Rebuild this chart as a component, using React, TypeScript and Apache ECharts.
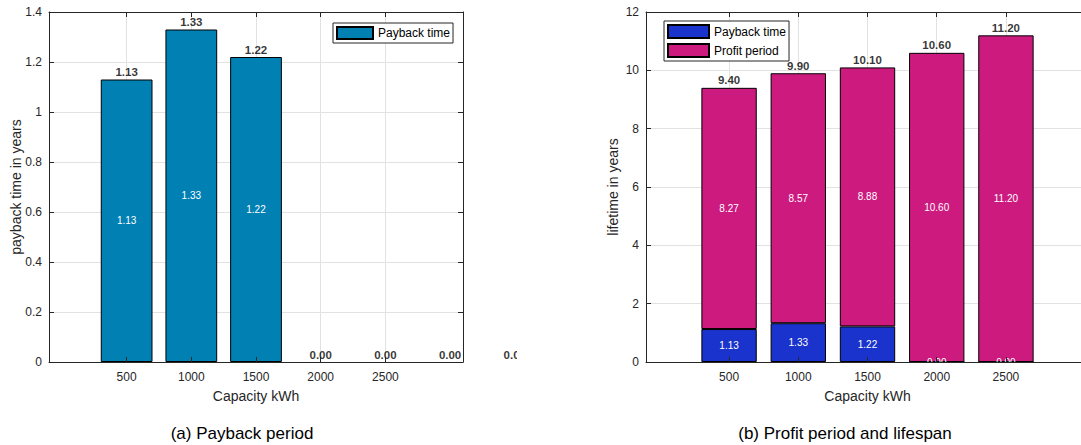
import React, { useEffect, useRef } from 'react';
import * as echarts from 'echarts';

// ---- data ----
const capacityA = [500, 1000, 1500, 2000, 2500, 3000, 3500];
const paybackA = [1.13, 1.33, 1.22, 0, 0, 0, 0];
const capacityB = [500, 1000, 1500, 2000, 2500];
const paybackB = [1.13, 1.33, 1.22, 0, 0];
const profitB = [8.27, 8.57, 8.88, 10.6, 11.2];
const xTickValues = [500, 1000, 1500, 2000, 2500];
const xRange = [-100, 3100];
const yAxisA = { min: 0, max: 1.4, step: 0.2 };
const yAxisB = { min: 0, max: 12, step: 2 };

const FONT = '"Liberation Sans", Arial, Helvetica, sans-serif';
const AXIS = '#262626';
const GRIDC = '#e2e2e2';
const COLOR_A = '#0080b3';
const COLOR_PAY = '#1a33cc';
const COLOR_PROFIT = '#cc1a7f';

const LEFT_W = 517;

function makeAxes(y: { min: number; max: number; step: number }, yName: string) {
  const xb = { type: 'value', min: xRange[0], max: xRange[1] };
  const yb = { type: 'value', min: y.min, max: y.max, interval: y.step };
  const frameX = (pos: string) => ({
    ...xb,
    position: pos,
    z: 10,
    axisLine: { show: true, onZero: false, lineStyle: { color: AXIS, width: 1 } },
    axisTick: { show: true, inside: true, length: 5, customValues: xTickValues, lineStyle: { color: AXIS } },
    axisLabel: { show: false },
    splitLine: { show: false },
  });
  const frameY = (pos: string) => ({
    ...yb,
    position: pos,
    z: 10,
    axisLine: { show: true, onZero: false, lineStyle: { color: AXIS, width: 1 } },
    axisTick: { show: true, inside: true, length: 5, lineStyle: { color: AXIS } },
    axisLabel: { show: false },
    splitLine: { show: false },
  });
  const xAxis = [
    {
      ...xb,
      position: 'bottom',
      name: 'Capacity kWh',
      nameLocation: 'middle',
      nameGap: 27,
      nameMoveOverlap: false,
      nameTextStyle: { color: AXIS, fontSize: 14, fontFamily: FONT },
      axisLine: { show: false, onZero: false },
      axisTick: { show: false, customValues: xTickValues },
      axisLabel: {
        customValues: xTickValues,
        color: AXIS,
        fontSize: 12,
        margin: 9,
        fontFamily: FONT,
        formatter: (v: number) => String(v),
      },
      splitLine: { show: true, lineStyle: { color: GRIDC, width: 1 } },
    },
    frameX('bottom'),
    frameX('top'),
  ];
  const yAxis = [
    {
      ...yb,
      position: 'left',
      name: yName,
      nameLocation: 'middle',
      nameGap: 26,
      nameMoveOverlap: false,
      nameTextStyle: { color: AXIS, fontSize: 14, fontFamily: FONT },
      axisLine: { show: false, onZero: false },
      axisTick: { show: false },
      axisLabel: { color: AXIS, fontSize: 12, margin: 7, fontFamily: FONT },
      splitLine: { show: true, lineStyle: { color: GRIDC, width: 1 } },
    },
    frameY('left'),
    frameY('right'),
  ];
  return { xAxis, yAxis };
}

// data items are [value, capacity]; encode maps capacity to x and value to y
const insideLabel = (values: number[], hideZero: boolean) => ({
  show: true,
  position: 'inside',
  color: '#fff',
  fontSize: 10,
  fontFamily: FONT,
  formatter: (p: any) => {
    const v = values[p.dataIndex];
    return hideZero && !v ? '' : v.toFixed(2);
  },
});

const topLabel = (values: number[]) => ({
  show: true,
  position: 'top',
  distance: 1,
  color: '#000',
  fontSize: 11.5,
  fontWeight: 'bold',
  fontFamily: FONT,
  formatter: (p: any) => values[p.dataIndex].toFixed(2),
});

const legendBase = {
  icon: 'rect',
  itemGap: 4,
  padding: [3, 3, 3, 3],
  borderColor: AXIS,
  borderWidth: 1,
  backgroundColor: '#fff',
  textStyle: { fontSize: 12, color: '#000', fontFamily: FONT },
};

function optionA() {
  const axes = makeAxes(yAxisA, 'payback time in years');
  return {
    animation: false,
    textStyle: { fontFamily: FONT },
    grid: { left: 49, top: 12, width: 414, height: 350, outerBoundsMode: 'none' },
    ...axes,
    legend: {
      ...legendBase,
      data: ['Payback time'],
      left: 333,
      top: 23,
      itemWidth: 36,
      itemHeight: 12,
    },
    series: [
      {
        name: 'Payback time',
        type: 'bar',
        xAxisIndex: 0,
        yAxisIndex: 0,
        clip: true,
        barWidth: '80%',
        encode: { x: 1, y: 0 },
        // a zero-length bar draws nothing
        data: capacityA.map((c, i) => [paybackA[i] === 0 ? '-' : paybackA[i], c]),
        itemStyle: { color: COLOR_A, borderColor: '#000', borderWidth: 1 },
        label: insideLabel(paybackA, true),
      },
      {
        name: 'total',
        type: 'scatter',
        xAxisIndex: 0,
        yAxisIndex: 0,
        clip: false,
        silent: true,
        symbol: 'rect',
        symbolSize: 1,
        itemStyle: { color: 'transparent' },
        encode: { x: 1, y: 0 },
        data: capacityA.map((c, i) => [paybackA[i], c]),
        label: topLabel(paybackA),
      },
    ],
    graphic: [
      {
        type: 'text',
        x: 242,
        y: 433,
        style: { text: '(a) Payback period', align: 'center', verticalAlign: 'middle', fontSize: 17, fill: '#000', fontFamily: FONT },
      },
    ],
  };
}

function optionB() {
  const axes = makeAxes(yAxisB, 'lifetime in years');
  const totals = capacityB.map((_, i) => paybackB[i] + profitB[i]);
  return {
    animation: false,
    textStyle: { fontFamily: FONT },
    grid: { left: 646 - LEFT_W, top: 12, width: 443, height: 350, outerBoundsMode: 'none' },
    ...axes,
    legend: {
      ...legendBase,
      data: ['Payback time', 'Profit period'],
      orient: 'vertical',
      left: 664 - LEFT_W,
      top: 21,
      itemWidth: 41,
      itemHeight: 13,
    },
    series: [
      {
        name: 'Payback time',
        type: 'bar',
        stack: 'life',
        xAxisIndex: 0,
        yAxisIndex: 0,
        barWidth: '80%',
        encode: { x: 1, y: 0 },
        data: capacityB.map((c, i) => [paybackB[i], c]),
        itemStyle: { color: COLOR_PAY, borderColor: '#000', borderWidth: 1 },
        label: insideLabel(paybackB, false),
      },
      {
        name: 'Profit period',
        type: 'bar',
        stack: 'life',
        xAxisIndex: 0,
        yAxisIndex: 0,
        barWidth: '80%',
        encode: { x: 1, y: 0 },
        data: capacityB.map((c, i) => [profitB[i], c]),
        itemStyle: { color: COLOR_PROFIT, borderColor: '#000', borderWidth: 1 },
        label: insideLabel(profitB, false),
      },
      {
        name: 'total',
        type: 'scatter',
        xAxisIndex: 0,
        yAxisIndex: 0,
        clip: false,
        silent: true,
        symbol: 'rect',
        symbolSize: 1,
        itemStyle: { color: 'transparent' },
        encode: { x: 1, y: 0 },
        data: capacityB.map((c, i) => [totals[i], c]),
        label: topLabel(totals),
      },
    ],
    graphic: [
      {
        type: 'text',
        x: 845 - LEFT_W,
        y: 433,
        style: { text: '(b) Profit period and lifespan', align: 'center', verticalAlign: 'middle', fontSize: 17, fill: '#000', fontFamily: FONT },
      },
    ],
  };
}

function Chart({ option, style }: { option: any; style: React.CSSProperties }) {
  const ref = useRef<HTMLDivElement>(null);
  useEffect(() => {
    const chart = echarts.init(ref.current as HTMLDivElement, null, { renderer: 'svg' });
    chart.setOption(option);
    return () => chart.dispose();
  }, []);
  return <div ref={ref} style={style} />;
}

export default function App() {
  return (
    <div style={{ position: 'absolute', left: 0, top: 0, width: 1081, height: 445, background: '#fff' }}>
      <Chart option={optionA()} style={{ position: 'absolute', left: 0, top: 0, width: LEFT_W, height: 445 }} />
      <Chart option={optionB()} style={{ position: 'absolute', left: LEFT_W, top: 0, width: 1081 - LEFT_W, height: 445 }} />
    </div>
  );
}
